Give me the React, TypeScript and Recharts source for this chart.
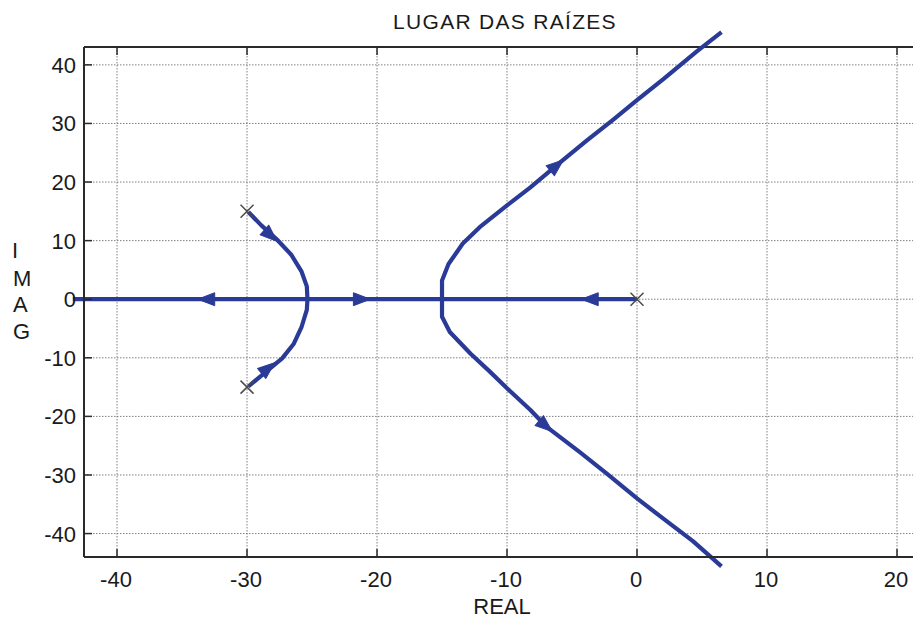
import React from "react";
import {
  ComposedChart,
  Line,
  Scatter,
  XAxis,
  YAxis,
  CartesianGrid,
  ReferenceLine,
  Label,
} from "recharts";

// ---------- data ----------
const xTicks = [-40, -30, -20, -10, 0, 10, 20];
const yTicks = [-40, -30, -20, -10, 0, 10, 20, 30, 40];

const realAxisBranch = [
  { x: -43.4, y: 0 },
  { x: 0, y: 0 },
];

const upperRightBranch = [
  { x: -15.0, y: 0 },
  { x: -15.0, y: 3.2 },
  { x: -14.5, y: 6.0 },
  { x: -13.4, y: 9.5 },
  { x: -12.1, y: 12.3 },
  { x: -10.0, y: 16.0 },
  { x: -8.2, y: 19.1 },
  { x: -6.05, y: 23.1 },
  { x: -3.85, y: 27.1 },
  { x: -1.8, y: 30.7 },
  { x: 0, y: 34.0 },
  { x: 2.05, y: 37.6 },
  { x: 4.6, y: 42.3 },
  { x: 6.5, y: 45.6 },
];

const lowerRightBranch = [
  { x: -15.0, y: 0 },
  { x: -15.0, y: -3.0 },
  { x: -14.4, y: -5.6 },
  { x: -12.8, y: -9.3 },
  { x: -11.3, y: -12.4 },
  { x: -10.0, y: -15.2 },
  { x: -8.2, y: -18.9 },
  { x: -6.95, y: -21.8 },
  { x: -4.4, y: -26.1 },
  { x: -2.3, y: -29.8 },
  { x: 0, y: -34.0 },
  { x: 2.05, y: -37.5 },
  { x: 4.3, y: -41.3 },
  { x: 6.5, y: -45.6 },
];

const upperLeftBranch = [
  { x: -29.9, y: 14.9 },
  { x: -28.9, y: 12.6 },
  { x: -27.7, y: 10.2 },
  { x: -26.6, y: 7.6 },
  { x: -25.8, y: 4.7 },
  { x: -25.4, y: 2.2 },
  { x: -25.35, y: 0 },
];

const lowerLeftBranch = [
  { x: -25.35, y: 0 },
  { x: -25.4, y: -1.8 },
  { x: -25.8, y: -4.7 },
  { x: -26.4, y: -7.6 },
  { x: -27.3, y: -10.1 },
  { x: -28.5, y: -12.3 },
  { x: -29.9, y: -14.9 },
];

const poles = [
  { x: -30, y: 15 },
  { x: -30, y: -15 },
  { x: 0, y: 0 },
];

// arrow positions with locus direction (in data units)
const arrows = [
  { x: -6.2, y: 22.8, dx: 4.35, dy: 8.0 },
  { x: -7.05, y: -21.6, dx: 3.8, dy: -7.2 },
  { x: -33.1, y: 0, dx: -1, dy: 0 },
  { x: -21.2, y: 0, dx: 1, dy: 0 },
  { x: -3.6, y: 0, dx: -1, dy: 0 },
  { x: -28.2, y: 10.9, dx: 1.2, dy: -2.4 },
  { x: -28.4, y: -11.8, dx: 1.2, dy: 2.2 },
];

const TITLE = "LUGAR DAS RAÍZES";
const X_LABEL = "REAL";
const Y_LABEL_LETTERS = ["I", "M", "A", "G"];

// ---------- layout / style ----------
const X_DOMAIN: [number, number] = [-42.54, 22.23];
const Y_DOMAIN: [number, number] = [-44.0, 43.05];

const CHART_W = 930;
const CHART_H = 619;
const MARGIN = { top: 47, right: 4, bottom: 22, left: 0 };
const Y_AXIS_W = 84;
const X_AXIS_H = 40;
const PLOT_LEFT = MARGIN.left + Y_AXIS_W;
const PLOT_TOP = MARGIN.top;
const PLOT_W = CHART_W - MARGIN.left - MARGIN.right - Y_AXIS_W;
const PLOT_H = CHART_H - MARGIN.top - MARGIN.bottom - X_AXIS_H;
const PX = PLOT_W / (X_DOMAIN[1] - X_DOMAIN[0]);
const PY = PLOT_H / (Y_DOMAIN[1] - Y_DOMAIN[0]);

const BLUE = "#2a3b97";
const AXIS = "#2a2a2a";
const TEXT = "#1a1a1a";
const FONT = "'Liberation Sans', Arial, Helvetica, sans-serif";
const TICK_LEN = 8;

const XTick = (props: any) => {
  const { x, y, payload } = props;
  return (
    <g>
      <line x1={x} x2={x} y1={y} y2={y - TICK_LEN} stroke={AXIS} strokeWidth={1.5} />
      <line x1={x} x2={x} y1={PLOT_TOP} y2={PLOT_TOP + TICK_LEN} stroke={AXIS} strokeWidth={1.5} />
      <text x={x - 1} y={y + 30} textAnchor="middle" fontSize={22} fontFamily={FONT} fill={TEXT}>
        {payload.value}
      </text>
    </g>
  );
};

const YTick = (props: any) => {
  const { x, y, payload } = props;
  return (
    <g>
      <line x1={x} x2={x + TICK_LEN} y1={y} y2={y} stroke={AXIS} strokeWidth={1.5} />
      <text x={x - 8} y={y + 8} textAnchor="end" fontSize={22} fontFamily={FONT} fill={TEXT}>
        {payload.value}
      </text>
    </g>
  );
};

const ArrowHead = (props: any) => {
  const { cx, cy, payload } = props;
  if (cx == null || cy == null) return null;
  const ang = (Math.atan2(-payload.dy * PY, payload.dx * PX) * 180) / Math.PI;
  return (
    <polygon
      points="9,0 -8,-6.5 -8,6.5"
      fill={BLUE}
      stroke={BLUE}
      strokeWidth={1}
      strokeLinejoin="round"
      transform={`translate(${cx},${cy}) rotate(${ang})`}
    />
  );
};

const PoleMark = (props: any) => {
  const { cx, cy } = props;
  if (cx == null || cy == null) return null;
  const s = 6.5;
  return (
    <g stroke="#4a4a4a" strokeWidth={1.5}>
      <line x1={cx - s} y1={cy - s} x2={cx + s} y2={cy + s} />
      <line x1={cx - s} y1={cy + s} x2={cx + s} y2={cy - s} />
    </g>
  );
};

const TitleLabel = (props: any) => {
  const vb = props.viewBox || {};
  const cx = (vb.x ?? PLOT_LEFT) + (vb.width ?? PLOT_W) / 2;
  return (
    <text
      x={cx}
      y={PLOT_TOP - 18}
      textAnchor="middle"
      fontSize={21}
      letterSpacing={1.3}
      fontFamily={FONT}
      fill={TEXT}
    >
      {TITLE}
    </text>
  );
};

const XLabel = (props: any) => {
  const vb = props.viewBox || {};
  const cx = (vb.x ?? PLOT_LEFT) + (vb.width ?? PLOT_W) / 2 - 3;
  return (
    <text x={cx} y={614} textAnchor="middle" fontSize={22} fontFamily={FONT} fill={TEXT}>
      {X_LABEL}
    </text>
  );
};

const YLabel = () => {
  const baselines = [258, 286, 312, 339];
  return (
    <text fontSize={22} fontFamily={FONT} fill={TEXT}>
      {Y_LABEL_LETTERS.map((ch, i) => (
        <tspan key={i} x={ch === "I" ? 12 : 13} y={baselines[i]}>
          {ch}
        </tspan>
      ))}
    </text>
  );
};

export default function App() {
  const lineProps = {
    dataKey: "y",
    type: "linear" as const,
    stroke: BLUE,
    strokeWidth: 4.2,
    dot: false,
    activeDot: false,
    isAnimationActive: false,
    strokeLinejoin: "round" as const,
  };
  return (
    <div
      style={{
        position: "absolute",
        left: 0,
        top: 0,
        width: 913,
        height: 619,
        overflow: "hidden",
        background: "#fff",
      }}
    >
      <style>{`.recharts-line, .recharts-line * { clip-path: none !important; }`}</style>
      <ComposedChart width={CHART_W} height={CHART_H} margin={MARGIN}>
        <CartesianGrid
          stroke="#808080"
          strokeDasharray="1.5 1.5"
          strokeWidth={1}
          horizontalValues={yTicks}
          verticalValues={xTicks}
        />
        <XAxis
          type="number"
          dataKey="x"
          domain={X_DOMAIN}
          allowDataOverflow
          ticks={xTicks}
          interval={0}
          height={X_AXIS_H}
          tickSize={0}
          tickMargin={0}
          tickLine={false}
          tick={<XTick />}
          axisLine={{ stroke: AXIS, strokeWidth: 2 }}
        >
          <Label content={<XLabel />} />
        </XAxis>
        <YAxis
          type="number"
          domain={Y_DOMAIN}
          allowDataOverflow
          ticks={yTicks}
          interval={0}
          width={Y_AXIS_W}
          tickSize={0}
          tickMargin={0}
          tickLine={false}
          tick={<YTick />}
          axisLine={{ stroke: AXIS, strokeWidth: 2 }}
        >
          <Label content={<YLabel />} />
        </YAxis>
        <ReferenceLine y={Y_DOMAIN[1]} stroke={AXIS} strokeWidth={2}>
          <Label content={<TitleLabel />} />
        </ReferenceLine>
        <Line data={realAxisBranch} {...lineProps} />
        <Line data={upperLeftBranch} {...lineProps} />
        <Line data={lowerLeftBranch} {...lineProps} />
        <Line data={upperRightBranch} {...lineProps} />
        <Line data={lowerRightBranch} {...lineProps} />
        <Scatter data={arrows} dataKey="y" shape={<ArrowHead />} isAnimationActive={false} />
        <Scatter data={poles} dataKey="y" shape={<PoleMark />} isAnimationActive={false} />
      </ComposedChart>
    </div>
  );
}
